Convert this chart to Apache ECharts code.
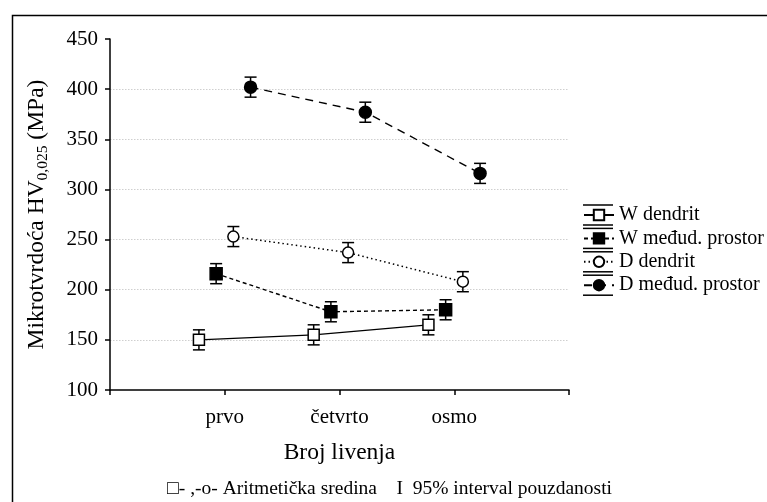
<!DOCTYPE html>
<html>
<head>
<meta charset="utf-8">
<script src="https://cdn.jsdelivr.net/npm/echarts@6/dist/echarts.min.js"></script>
<style>
html,body{margin:0;padding:0;background:#fff;}
#chart{width:767px;height:502px;}
</style>
</head>
<body>
<div id="chart"></div>
<script>
// ---- data ----
const categories = ['prvo', 'četvrto', 'osmo'];
const seriesNames = ['W dendrit', 'W međud. prostor', 'D dendrit', 'D međud. prostor'];
const wDendrit = [150, 155, 165];
const wMedud = [216, 178, 180];
const dDendrit = [253, 237, 208];
const dMedud = [402, 377, 316];
const wDendritCI = [10, 10, 10];
const wMedudCI = [10, 10, 10];
const dDendritCI = [10, 10, 10];
const dMedudCI = [10, 10, 10];
const yTicks = [100, 150, 200, 250, 300, 350, 400, 450];

// ---- build ----
const FONT = '"Liberation Serif", "Times New Roman", serif';
const values = [wDendrit, wMedud, dDendrit, dMedud];
const cis = [wDendritCI, wMedudCI, dDendritCI, dMedudCI];
const offsets = [-0.225, -0.075, 0.075, 0.225];
const styles = [
  {symbol: 'rect', size: 11, fill: '#fff', line: {type: 'solid', width: 1.2}},
  {symbol: 'rect', size: 12, fill: '#000', line: {type: [4, 3], width: 1.4}},
  {symbol: 'circle', size: 11, fill: '#fff', line: {type: [1.5, 3], width: 1.5}},
  {symbol: 'circle', size: 12, fill: '#000', line: {type: [8, 6], width: 1.4}}
];

const series = [];
const errData = [];
values.forEach((vals, s) => {
  const st = styles[s];
  series.push({
    name: seriesNames[s],
    type: 'line',
    z: 3,
    symbol: st.symbol,
    symbolSize: st.size,
    showAllSymbol: true,
    itemStyle: {color: st.fill, borderColor: '#000', borderWidth: 1.5},
    lineStyle: {color: '#000', width: st.line.width, type: st.line.type},
    data: vals.map((v, i) => [i + 1 + offsets[s], v])
  });
  vals.forEach((v, i) => {
    errData.push([i + 1 + offsets[s], v - cis[s][i], v + cis[s][i]]);
  });
});

series.push({
  name: 'CI',
  type: 'custom',
  z: 2,
  silent: true,
  renderItem: function (params, api) {
    const x = api.value(0);
    const top = api.coord([x, api.value(2)]);
    const bot = api.coord([x, api.value(1)]);
    const hw = 6;
    const st = {stroke: '#000', lineWidth: 1.5};
    return {
      type: 'group',
      children: [
        {type: 'line', shape: {x1: top[0], y1: top[1], x2: bot[0], y2: bot[1]}, style: st},
        {type: 'line', shape: {x1: top[0] - hw, y1: top[1], x2: top[0] + hw, y2: top[1]}, style: st},
        {type: 'line', shape: {x1: bot[0] - hw, y1: bot[1], x2: bot[0] + hw, y2: bot[1]}, style: st}
      ]
    };
  },
  encode: {x: 0, y: [1, 2]},
  data: errData
});

// legend cap lines
const legendFirst = 215, legendStep = 23.4, legendLeft = 583, legendRowH = 22;
const graphics = [
  {type: 'rect', left: 10, top: 13, shape: {x: 0, y: 0, width: 800, height: 600},
   style: {fill: 'none', stroke: '#000', lineWidth: 1.5}, silent: true},
  {type: 'text', left: 167, top: 479,
   style: {text: '□- ,-o- Aritmetička sredina    I  95% interval pouzdanosti', font: '19.5px ' + FONT, fill: '#000'}}
];
seriesNames.forEach((n, i) => {
  const cy = legendFirst + i * legendStep;
  [-10, 10].forEach(d => {
    graphics.push({type: 'line', silent: true,
      shape: {x1: legendLeft, y1: cy + d, x2: legendLeft + 30, y2: cy + d},
      style: {stroke: '#000', lineWidth: 1.5}});
  });
});

const chart = echarts.init(document.getElementById('chart'), null, {renderer: 'canvas'});
chart.setOption({
  animation: false,
  backgroundColor: '#fff',
  grid: {left: 110, right: 198, top: 39, bottom: 112, containLabel: false},
  legend: {
    data: seriesNames,
    orient: 'vertical',
    left: legendLeft,
    top: legendFirst - legendRowH / 2,
    padding: 0,
    itemWidth: 30,
    itemHeight: 13,
    itemGap: legendStep - legendRowH,
    textStyle: {fontFamily: FONT, fontSize: 20, color: '#000', lineHeight: legendRowH},
    selectedMode: false
  },
  xAxis: {
    type: 'value',
    min: 0, max: 4, interval: 1,
    name: 'Broj livenja',
    nameLocation: 'middle',
    nameGap: 51,
    nameTextStyle: {fontFamily: FONT, fontSize: 23.5, color: '#000'},
    axisLine: {lineStyle: {color: '#000', width: 1.5}},
    axisTick: {show: true, length: 5, lineStyle: {color: '#000', width: 1.5}},
    axisLabel: {
      fontFamily: FONT, fontSize: 21, color: '#000', margin: 17,
      formatter: v => (v >= 1 && v <= categories.length) ? categories[v - 1] : ''
    },
    splitLine: {show: false}
  },
  yAxis: {
    type: 'value',
    min: yTicks[0], max: yTicks[yTicks.length - 1], interval: 50,
    name: '{n|Mikrotvrdoća HV}{s|0,025}{n| (MPa)}',
    nameLocation: 'middle',
    nameRotate: 90,
    nameGap: 59,
    nameTextStyle: {
      fontFamily: FONT, fontSize: 23.5, color: '#000',
      rich: {
        n: {fontFamily: FONT, fontSize: 23.5, color: '#000'},
        s: {fontFamily: FONT, fontSize: 15.5, color: '#000', padding: [13, 0, 0, 0]}
      }
    },
    axisLine: {show: true, lineStyle: {color: '#000', width: 1.5}},
    axisTick: {show: true, length: 5, lineStyle: {color: '#000', width: 1.5}},
    axisLabel: {fontFamily: FONT, fontSize: 21, color: '#000', margin: 12},
    splitLine: {show: true, showMinLine: false, showMaxLine: false,
      lineStyle: {color: '#cfcfcf', type: [1.5, 1.5], width: 1}}
  },
  graphic: graphics,
  series: series
});
</script>
</body>
</html>
